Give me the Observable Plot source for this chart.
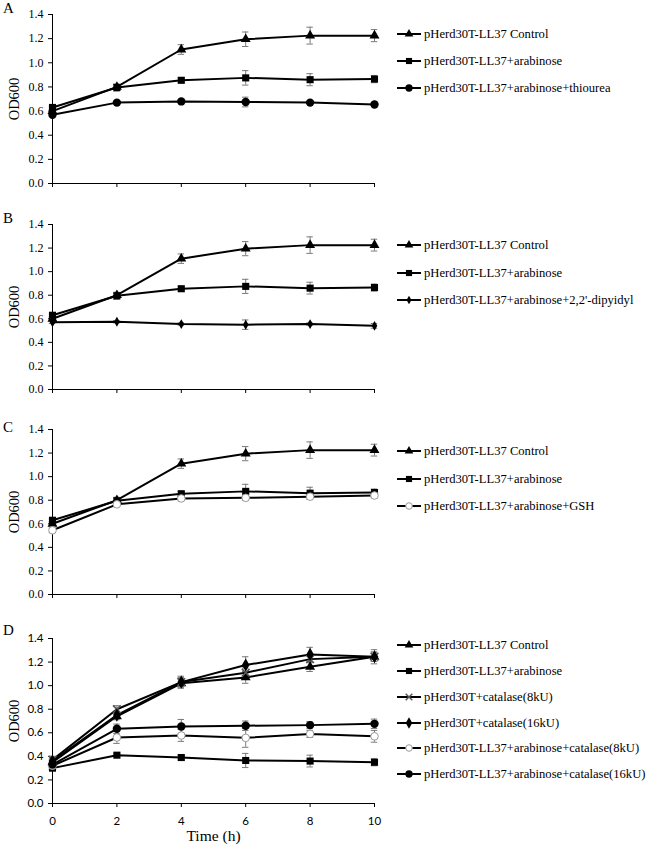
<!DOCTYPE html>
<html>
<head>
<meta charset="utf-8">
<script src="https://cdn.jsdelivr.net/npm/d3@7"></script>
<script src="https://cdn.jsdelivr.net/npm/@observablehq/plot@0.6"></script>
<style>
  html, body { margin: 0; padding: 0; background: #fff; }
  #root { position: relative; width: 650px; height: 850px; background: #fff; overflow: hidden; }
  .panel { position: absolute; left: 0; }
  .letter { position: absolute; font-family: "Liberation Serif", serif; font-size: 15px; color: #000; }
  .leg { position: absolute; left: 397px; display: flex; align-items: center; font-family: "Liberation Serif", serif; font-size: 12.6px; color: #000; white-space: nowrap; }
  .leg svg { margin-right: 2px; }
</style>
</head>
<body>
<div id="root"></div>
<script>
// ---------- data ----------
const time = [0, 2, 4, 6, 8, 10];
const yTicks = [0, 0.2, 0.4, 0.6, 0.8, 1.0, 1.2, 1.4];

const control     = [0.60, 0.80, 1.11, 1.195, 1.225, 1.225];
const controlErr  = [0.01, 0.02, 0.04, 0.06, 0.07, 0.05];
const arabinose   = [0.63, 0.795, 0.855, 0.875, 0.86, 0.865];
const arabinoseErr= [0.01, 0.03, 0.02, 0.06, 0.05, 0.03];
const thiourea    = [0.57, 0.67, 0.68, 0.675, 0.67, 0.655];
const thioureaErr = [0.01, 0.01, 0.01, 0.04, 0.01, 0.01];
const dipyidyl    = [0.57, 0.575, 0.555, 0.55, 0.555, 0.54];
const dipyidylErr = [0.01, 0.01, 0.01, 0.04, 0.01, 0.02];
const gsh         = [0.545, 0.765, 0.815, 0.82, 0.83, 0.84];
const gshErr      = [0.02, 0.02, 0.02, 0.02, 0.02, 0.02];

const controlD    = [0.35, 0.74, 1.02, 1.07, 1.16, 1.245];
const controlDErr = [0.02, 0.03, 0.04, 0.05, 0.04, 0.04];
const arabD       = [0.30, 0.41, 0.39, 0.365, 0.36, 0.35];
const arabDErr    = [0.01, 0.01, 0.02, 0.06, 0.05, 0.03];
const cat8        = [0.37, 0.80, 1.03, 1.11, 1.225, 1.245];
const cat8Err     = [0.03, 0.03, 0.04, 0.04, 0.03, 0.04];
const cat16       = [0.36, 0.75, 1.03, 1.175, 1.265, 1.245];
const cat16Err    = [0.02, 0.03, 0.05, 0.07, 0.06, 0.06];
const arabCat8    = [0.32, 0.56, 0.577, 0.557, 0.59, 0.57];
const arabCat8Err = [0.02, 0.05, 0.05, 0.08, 0.03, 0.05];
const arabCat16   = [0.33, 0.634, 0.653, 0.66, 0.665, 0.676];
const arabCat16Err= [0.02, 0.04, 0.06, 0.04, 0.03, 0.04];

const names = {
  control: "pHerd30T-LL37 Control",
  arab: "pHerd30T-LL37+arabinose",
  thiourea: "pHerd30T-LL37+arabinose+thiourea",
  dipyidyl: "pHerd30T-LL37+arabinose+2,2'-dipyidyl",
  gsh: "pHerd30T-LL37+arabinose+GSH",
  cat8: "pHerd30T+catalase(8kU)",
  cat16: "pHerd30T+catalase(16kU)",
  arabCat8: "pHerd30T-LL37+arabinose+catalase(8kU)",
  arabCat16: "pHerd30T-LL37+arabinose+catalase(16kU)"
};

// symbol styles
const styles = {
  triangle: {symbol: "triangle", r: 3.7, fill: "black", stroke: "none", d3: d3.symbolTriangle},
  square:   {symbol: "square", r: 4.0, fill: "black", stroke: "none", d3: d3.symbolSquare},
  circle:   {symbol: "circle", r: 4.2, fill: "black", stroke: "none", d3: d3.symbolCircle},
  diamond:  {symbol: "diamond", r: 3.0, fill: "black", stroke: "none", d3: d3.symbolDiamond},
  diamondL: {symbol: "diamond", r: 4.0, fill: "black", stroke: "none", d3: d3.symbolDiamond},
  times:    {symbol: "times", r: 3.6, fill: "none", stroke: "#555", d3: d3.symbolTimes},
  open:     {symbol: "circle", r: 3.8, fill: "white", stroke: "#999", d3: d3.symbolCircle}
};

const panels = [
  {letter: "A", top: 0, height: 200, mt: 14, mb: 17, sans: false, xlabels: false,
   series: [
     {name: names.control, v: control, e: controlErr, s: "triangle"},
     {name: names.arab, v: arabinose, e: arabinoseErr, s: "square"},
     {name: names.thiourea, v: thiourea, e: thioureaErr, s: "circle"}],
   legendY: [34, 61, 88]},
  {letter: "B", top: 200, height: 200, mt: 24, mb: 11, sans: false, xlabels: false,
   series: [
     {name: names.control, v: control, e: controlErr, s: "triangle"},
     {name: names.arab, v: arabinose, e: arabinoseErr, s: "square"},
     {name: names.dipyidyl, v: dipyidyl, e: dipyidylErr, s: "diamond"}],
   legendY: [245, 273, 300]},
  {letter: "C", top: 405, height: 200, mt: 24, mb: 11, sans: false, xlabels: false,
   series: [
     {name: names.control, v: control, e: controlErr, s: "triangle"},
     {name: names.arab, v: arabinose, e: arabinoseErr, s: "square"},
     {name: names.gsh, v: gsh, e: gshErr, s: "open"}],
   legendY: [451, 479, 506]},
  {letter: "D", top: 614, height: 236, mt: 24, mb: 47, sans: true, xlabels: true,
   series: [
     {name: names.control, v: controlD, e: controlDErr, s: "triangle"},
     {name: names.arab, v: arabD, e: arabDErr, s: "square"},
     {name: names.cat8, v: cat8, e: cat8Err, s: "times"},
     {name: names.cat16, v: cat16, e: cat16Err, s: "diamondL"},
     {name: names.arabCat8, v: arabCat8, e: arabCat8Err, s: "open"},
     {name: names.arabCat16, v: arabCat16, e: arabCat16Err, s: "circle"}],
   legendY: [645, 671, 697, 723, 748, 774]}
];

const letterTop = {A: 0, B: 210, C: 419, D: 622};

const root = document.getElementById("root");

for (const p of panels) {
  const rows = [];
  for (const s of p.series) {
    time.forEach((t, i) => rows.push({series: s.name, t, v: s.v[i], e: s.e[i], s: s.s}));
  }
  const tickFont = p.sans ? "Lato, 'Noto Sans', sans-serif" : "'Liberation Serif', serif";
  const marks = [
    Plot.axisY({ticks: yTicks, tickFormat: d3.format(".1f"), tickSize: 4, tickPadding: 5,
                fontFamily: tickFont, fontSize: p.sans ? 11.5 : 12, label: null}),
    Plot.axisX({ticks: time, tickSize: 4, tickPadding: 9, label: null,
                tickFormat: p.xlabels ? (d => String(d)) : (() => ""),
                fontFamily: tickFont, fontSize: 11.5}),
    Plot.ruleX([0], {stroke: "black", strokeWidth: 1}),
    Plot.ruleY([0], {stroke: "black", strokeWidth: 1}),
    Plot.text(["OD600"], {frameAnchor: "left", rotate: -90, dx: -38, fontSize: 14.5,
                fontFamily: "'Liberation Serif', serif", fill: "black", textAnchor: "middle"}),
    // error bars
    Plot.ruleX(rows, {x: "t", y1: d => d.v - d.e, y2: d => d.v + d.e, stroke: "#7a7a7a", strokeWidth: 1}),
    Plot.ruleY(rows, {y: d => d.v + d.e, x1: d => d.t - 0.1, x2: d => d.t + 0.1, stroke: "#7a7a7a", strokeWidth: 1}),
    Plot.ruleY(rows, {y: d => d.v - d.e, x1: d => d.t - 0.1, x2: d => d.t + 0.1, stroke: "#7a7a7a", strokeWidth: 1}),
    Plot.line(rows, {x: "t", y: "v", z: "series", stroke: "black", strokeWidth: 2})
  ];
  for (const s of p.series) {
    const st = styles[s.s];
    const data = rows.filter(d => d.series === s.name);
    marks.push(Plot.dot(data, {x: "t", y: "v", symbol: st.symbol, r: st.r, fill: st.fill,
      stroke: st.stroke, strokeWidth: st.fill === "none" ? 1.6 : 1}));
  }
  if (p.xlabels) {
    marks.push(Plot.text(["Time (h)"], {frameAnchor: "bottom", dy: 37, fontSize: 15.5,
      fontFamily: "'Liberation Serif', serif", fill: "black"}));
  }
  const chart = Plot.plot({
    width: 650, height: p.height,
    marginLeft: 52, marginRight: 276, marginTop: p.mt, marginBottom: p.mb,
    style: {background: "white", color: "black", overflow: "visible"},
    x: {domain: [0, 10]},
    y: {domain: [0, 1.4]},
    marks
  });
  chart.classList.add("panel");
  chart.style.top = p.top + "px";
  root.appendChild(chart);

  const L = document.createElement("div");
  L.className = "letter";
  L.style.left = "3px";
  L.style.top = letterTop[p.letter] + "px";
  L.textContent = p.letter;
  root.appendChild(L);

  p.series.forEach((s, i) => {
    const st = styles[s.s];
    const item = document.createElement("div");
    item.className = "leg";
    item.style.top = (p.legendY[i] - 8) + "px";
    item.style.height = "16px";
    const svg = d3.create("svg").attr("width", 25).attr("height", 12);
    svg.append("line").attr("x1", 0).attr("x2", 24).attr("y1", 6).attr("y2", 6)
      .attr("stroke", "black").attr("stroke-width", 2);
    svg.append("path")
      .attr("transform", "translate(12,6)")
      .attr("d", d3.symbol().type(st.d3).size(Math.PI * st.r * st.r * 0.75)())
      .attr("fill", st.fill).attr("stroke", st.stroke === "none" ? null : st.stroke)
      .attr("stroke-width", st.fill === "none" ? 1.4 : 1);
    item.appendChild(svg.node());
    const span = document.createElement("span");
    span.textContent = s.name;
    item.appendChild(span);
    root.appendChild(item);
  });
}
</script>
</body>
</html>
